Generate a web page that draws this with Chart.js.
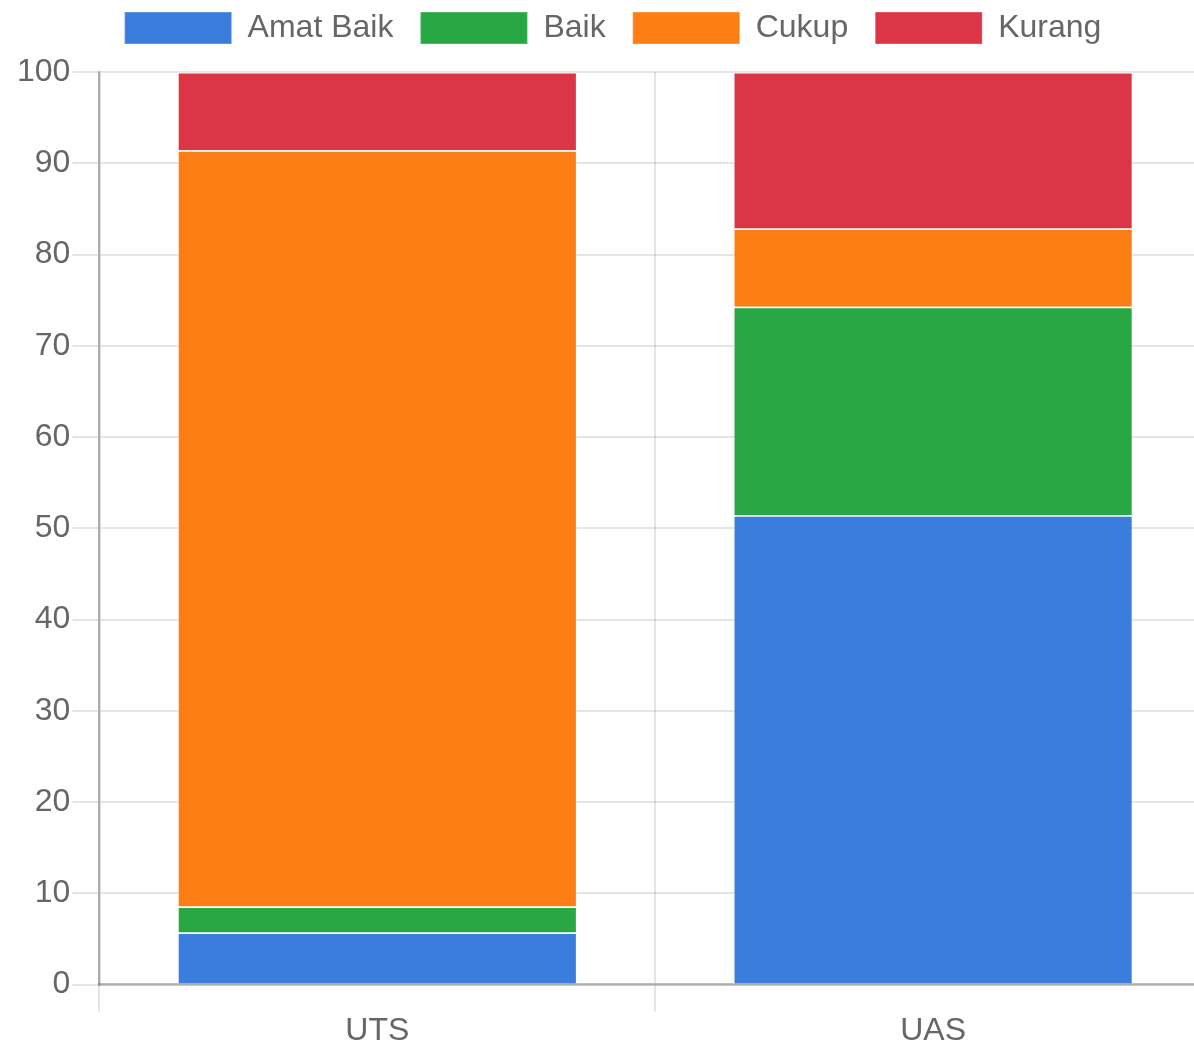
<!DOCTYPE html>
<html>
<head>
<meta charset="utf-8">
<title>Rekap Nilai</title>
<script src="https://cdn.jsdelivr.net/npm/chart.js@4"></script>
<style>
  html, body { margin: 0; padding: 0; background: #fff; overflow: hidden; }
  #wrap { width: 1194px; height: 1046px; overflow: hidden; }
</style>
</head>
<body>
<div id="wrap"><canvas id="grafikNilai" width="1211" height="1042"></canvas></div>
<script>
// persentase siswa per predikat (dari 35 siswa)
const ujian = ['UTS', 'UAS'];
const amatBaik = [5.71, 51.43];
const baik = [2.86, 22.86];
const cukup = [82.86, 8.57];
const kurang = [8.57, 17.14];

const predikat = ['Amat Baik', 'Baik', 'Cukup', 'Kurang'];
const warna = ['#3b7ddd', '#28a745', '#fd7e14', '#dc3545'];
const nilai = [amatBaik, baik, cukup, kurang];

const datasets = predikat.map((label, i) => ({
  label: label,
  data: nilai[i],
  backgroundColor: warna[i],
  borderColor: 'rgba(255, 255, 255, 0.22)',
  borderWidth: 1.5
}));

// beri jarak ekstra di bawah legenda
const jarakLegenda = {
  id: 'jarakLegenda',
  beforeInit(chart) {
    const fitAsli = chart.legend.fit;
    chart.legend.fit = function () {
      fitAsli.call(this);
      this.height += 18;
    };
  }
};

Chart.defaults.font.family = "'Helvetica Neue', Helvetica, Arial, 'Liberation Sans', sans-serif";
Chart.defaults.font.size = 32;
Chart.defaults.color = '#666';

const ctx = document.getElementById('grafikNilai').getContext('2d');
new Chart(ctx, {
  type: 'bar',
  data: {
    labels: ujian,
    datasets
  },
  plugins: [jarakLegenda],
  options: {
    responsive: false,
    animation: false,
    layout: {
      padding: { top: -15, left: 15, right: 0, bottom: -8 }
    },
    plugins: {
      legend: {
        position: 'top',
        labels: {
          boxWidth: 107,
          boxHeight: 32,
          padding: 27
        }
      },
      tooltip: { enabled: false }
    },
    scales: {
      x: {
        stacked: true,
        grid: {
          color: 'rgba(0, 0, 0, 0.1)',
          lineWidth: 2,
          tickLength: 27
        },
        border: { color: 'rgba(0, 0, 0, 0.25)', width: 2.5 },
        ticks: { padding: 0 }
      },
      y: {
        stacked: true,
        min: 0,
        max: 100,
        grid: {
          color: 'rgba(0, 0, 0, 0.1)',
          lineWidth: 2,
          tickLength: 27
        },
        border: { color: 'rgba(0, 0, 0, 0.25)', width: 2.5 },
        ticks: { stepSize: 10, padding: 2 }
      }
    }
  }
});
</script>
</body>
</html>
